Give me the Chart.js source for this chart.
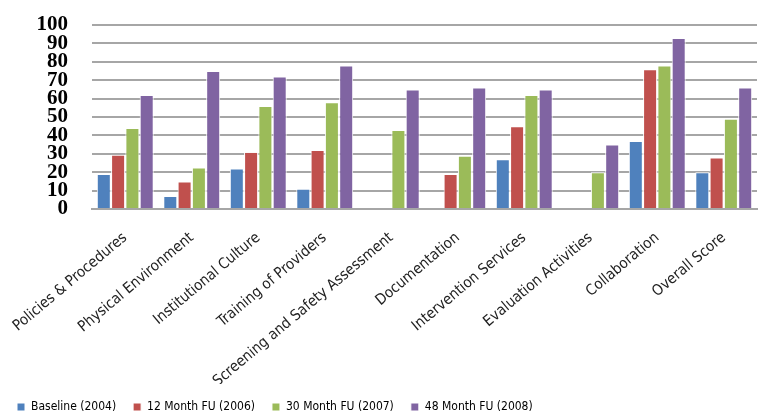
<!DOCTYPE html>
<html>
<head>
<meta charset="utf-8">
<script src="https://cdn.jsdelivr.net/npm/chart.js@4/dist/chart.umd.min.js"></script>
<style>
  html, body { margin: 0; padding: 0; background: #fff; }
  #wrap { width: 758px; height: 419px; }
</style>
</head>
<body>
<div id="wrap"><canvas id="chart" width="758" height="419"></canvas></div>
<script>
const categories = [
    'Policies & Procedures', 'Physical Environment', 'Institutional Culture',
    'Training of Providers', 'Screening and Safety Assessment', 'Documentation',
    'Intervention Services', 'Evaluation Activities', 'Collaboration', 'Overall Score'
];
const seriesNames = ['Baseline (2004)', '12 Month FU (2006)', '30 Month FU (2007)', '48 Month FU (2008)'];
const baseline  = [19, 7, 22, 11, null, null, 27, null, 37, 20];
const month12   = [29.5, 15, 31, 32, null, 19, 45, null, 76, 28];
const month30   = [44, 22.5, 56, 58, 43, 29, 62, 20, 78, 49];
const month48   = [62, 75, 72, 78, 65, 66, 65, 35, 93, 66];
const yTicks = [0, 10, 20, 30, 40, 50, 60, 70, 80, 90, 100];

const colors = ['#4f81bd', '#c0504d', '#9bbb59', '#8064a2'];
const values = [baseline, month12, month30, month48];

const labelFont = "'DejaVu Sans Condensed', 'Liberation Sans Narrow', 'Liberation Sans', sans-serif";

const ctx = document.getElementById('chart').getContext('2d');
const chart = new Chart(ctx, {
    type: 'bar',
    data: {
        labels: categories,
        datasets: seriesNames.map((name, i) => ({
            label: name,
            data: values[i],
            backgroundColor: colors[i],
            borderColor: '#ffffff',
            borderWidth: 1,
            categoryPercentage: 0.86,
            barPercentage: 0.98
        }))
    },
    options: {
        responsive: false,
        animation: false,
        layout: { padding: { top: 25, right: 1, left: 0, bottom: -4 } },
        plugins: {
            tooltip: { enabled: false },
            legend: {
                position: 'bottom',
                align: 'start',
                labels: {
                    boxWidth: 8,
                    boxHeight: 8,
                    padding: 17,
                    color: '#000',
                    font: { family: labelFont, size: 12 }
                }
            }
        },
        scales: {
            x: {
                grid: { display: false },
                border: { color: '#a6a6a6', width: 2 },
                ticks: {
                    autoSkip: false,
                    minRotation: 40,
                    maxRotation: 40,
                    padding: 12,
                    color: '#222',
                    font: { family: labelFont, size: 15 }
                },
                afterFit: (scale) => {
                    scale.height = 175;
                    scale.paddingLeft = 0;
                    scale.paddingRight = 0;
                }
            },
            y: {
                min: 0,
                max: 100,
                afterBuildTicks: (scale) => { scale.ticks = yTicks.map(v => ({ value: v })); },
                grid: { color: '#a6a6a6', lineWidth: 2, drawTicks: false },
                border: { display: false },
                ticks: {
                    autoSkip: false,
                    padding: 24,
                    color: '#000',
                    font: { family: "'Liberation Serif', serif", size: 21, weight: 'bold' }
                },
                afterFit: (scale) => {
                    scale.width = 92;
                    scale.paddingTop = 0;
                    scale.paddingBottom = 0;
                }
            }
        }
    }
});
</script>
</body>
</html>
